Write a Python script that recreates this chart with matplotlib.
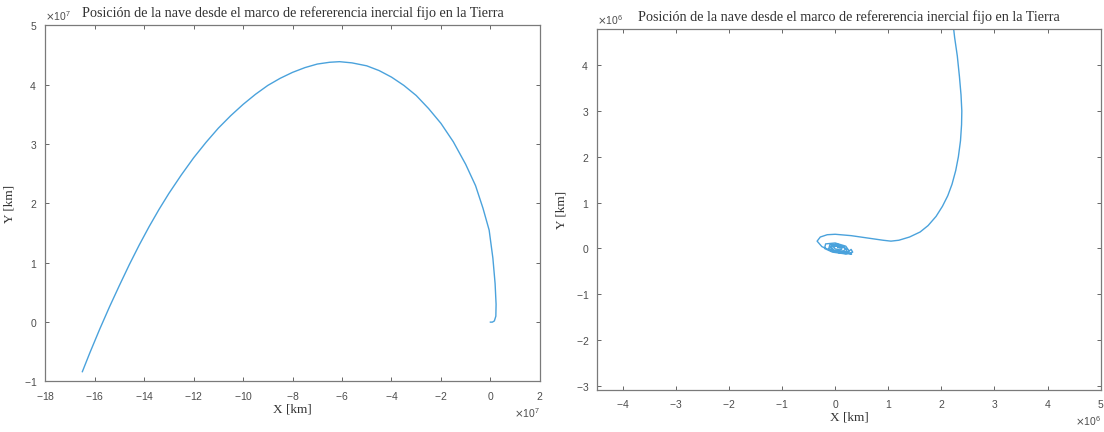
"""
Posicion de la nave desde el marco de referencia inercial fijo en la Tierra.
Two panels: full trajectory and zoom around the Earth.
"""
import matplotlib
matplotlib.use("Agg")
import matplotlib.pyplot as plt
from matplotlib.ticker import ScalarFormatter
import numpy as np

TITLE = "Posición de la nave desde el marco de refererencia inercial fijo en la Tierra"
LINE_COLOR = "#4aa2dc"
AX_COLOR = "#4d4d4d"

# Left panel: full trajectory [x1e7 km]
x_full = np.array([-16.50, -16.20, -15.80, -15.40, -15.00, -14.60, -14.20, -13.80,
                   -13.40, -13.00, -12.50, -12.00, -11.50, -11.00, -10.50, -10.00,
                   -9.50, -9.00, -8.50, -8.00, -7.50, -7.00, -6.50, -6.10,
                   -5.60, -5.00, -4.50, -4.00, -3.50, -3.00, -2.50, -2.00,
                   -1.50, -1.00, -0.60, -0.30, -0.05, 0.10, 0.19, 0.23,
                   0.22, 0.16, 0.08, 0.00]) * 1e7
y_full = np.array([-0.835, -0.52, -0.12, 0.26, 0.62, 0.97, 1.30, 1.61,
                   1.90, 2.17, 2.48, 2.77, 3.03, 3.27, 3.48, 3.67,
                   3.84, 3.99, 4.11, 4.21, 4.29, 4.35, 4.38, 4.39,
                   4.37, 4.32, 4.24, 4.13, 3.99, 3.82, 3.60, 3.35,
                   3.04, 2.66, 2.30, 1.92, 1.55, 1.08, 0.65, 0.30,
                   0.10, 0.02, 0.00, 0.00]) * 1e7

# Right panel: spiral around the Earth and departure [x1e6 km]
x_near = np.array([0.05, 0.10, 0.07, 0.01, -0.03, 0.00, 0.08, 0.12,
                   0.13, 0.06, -0.04, -0.07, -0.02, 0.08, 0.16, 0.19,
                   0.15, 0.04, -0.06, -0.09, -0.03, 0.10, 0.20, 0.22,
                   0.17, 0.05, -0.10, -0.12, 0.00, 0.20, 0.26,
                   0.20, 0.00, -0.18, -0.20, -0.05, 0.20, 0.33, 0.30,
                   0.22, 0.31, 0.10, -0.09, -0.25, -0.34, -0.28, -0.15, 0.00,
                   0.30, 0.60, 0.90, 1.05, 1.20, 1.40, 1.60, 1.75, 1.90,
                   2.02, 2.12, 2.20, 2.27, 2.32, 2.36, 2.38, 2.385, 2.37,
                   2.34, 2.30, 2.25, 2.21]) * 1e6
y_near = np.array([0.02, 0.01, 0.04, 0.05, 0.03, -0.01, -0.03, -0.02,
                   0.02, 0.06, 0.06, 0.02, -0.04, -0.06, -0.05, -0.02,
                   0.04, 0.07, 0.07, 0.03, -0.05, -0.08, -0.07, -0.03,
                   0.03, 0.09, 0.08, 0.00, -0.07, -0.09, -0.05,
                   0.05, 0.12, 0.10, 0.00, -0.08, -0.12, -0.08, -0.02,
                   -0.10, -0.12, -0.10, -0.04, 0.04, 0.16, 0.25, 0.30, 0.31,
                   0.28, 0.23, 0.18, 0.16, 0.18, 0.25, 0.36, 0.50, 0.70,
                   0.92, 1.15, 1.40, 1.70, 2.00, 2.35, 2.70, 3.00, 3.35,
                   3.75, 4.20, 4.60, 5.00]) * 1e6

LEFT_XLIM = (-18e7, 2e7)
LEFT_YLIM = (-1e7, 5e7)
LEFT_XTICKS = np.arange(-18, 3, 2) * 1e7
LEFT_YTICKS = np.arange(-1, 6, 1) * 1e7

RIGHT_XLIM = (-4.48e6, 5.0e6)
RIGHT_YLIM = (-3.09e6, 4.79e6)
RIGHT_XTICKS = np.arange(-4, 6, 1) * 1e6
RIGHT_YTICKS = np.arange(-3, 5, 1) * 1e6


def style_axes(ax, xlim, ylim, xticks, yticks, power):
    """MATLAB-like look: box, inward ticks, offset text"""
    ax.set_xlim(*xlim)
    ax.set_ylim(*ylim)
    ax.set_xticks(xticks)
    ax.set_yticks(yticks)
    for axis in (ax.xaxis, ax.yaxis):
        fmt = ScalarFormatter(useMathText=True)
        fmt.set_powerlimits((power, power))
        axis.set_major_formatter(fmt)
    ax.tick_params(direction="in", top=True, right=True, length=3, width=0.6,
                   labelsize=7.5, colors=AX_COLOR, pad=6)
    for txt in (ax.xaxis.get_offset_text(), ax.yaxis.get_offset_text()):
        txt.set_fontsize(7.5)
        txt.set_color(AX_COLOR)
    for sp in ax.spines.values():
        sp.set_color("#7a7a7a")
        sp.set_linewidth(0.9)
    ax.set_title(TITLE, fontsize=10.2, family="Liberation Serif", color="#333333", pad=6)
    ax.set_xlabel("X [km]", fontsize=9.5, family="Liberation Serif", color="#333333", labelpad=1)
    ax.set_ylabel("Y [km]", fontsize=9.5, family="Liberation Serif", color="#333333", labelpad=6)


def main():
    plt.rcParams["font.family"] = ["Liberation Sans", "DejaVu Sans"]
    plt.rcParams["axes.unicode_minus"] = False
    fig = plt.figure(figsize=(11.04, 4.32), dpi=100)
    ax0 = fig.add_axes([0.041, 0.117, 0.448, 0.824])
    ax1 = fig.add_axes([0.541, 0.097, 0.456, 0.836])

    ax0.plot(x_full, y_full, color=LINE_COLOR, lw=1.0)
    style_axes(ax0, LEFT_XLIM, LEFT_YLIM, LEFT_XTICKS, LEFT_YTICKS, 7)

    ax1.plot(x_near, y_near, color=LINE_COLOR, lw=1.0)
    style_axes(ax1, RIGHT_XLIM, RIGHT_YLIM, RIGHT_XTICKS, RIGHT_YTICKS, 6)

    fig.savefig("out.png", dpi=100)


if __name__ == '__main__':
    main()
